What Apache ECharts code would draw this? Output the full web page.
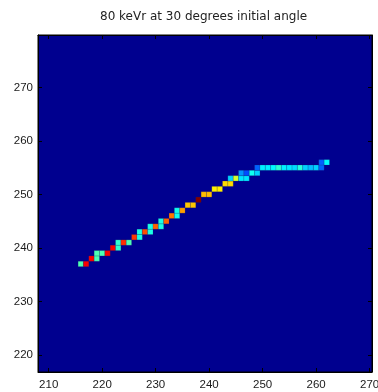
<!DOCTYPE html>
<html>
<head>
<meta charset="utf-8">
<script src="https://cdn.jsdelivr.net/npm/echarts@6/dist/echarts.min.js"></script>
<style>
html,body{margin:0;padding:0;background:#fff;}
#c{width:378px;height:392px;}
</style>
</head>
<body>
<div id="c"></div>
<script>
// ---- data ----
const titleText = '80 keVr at 30 degrees initial angle';
const xTickLabels = [210, 220, 230, 240, 250, 260, 270];
const yTickLabels = [220, 230, 240, 250, 260, 270];
const xRange = [208, 270.45];
const yRange = [216.8, 279.8];

// cell positions (pixel bins) and normalized intensity (0..1, jet colormap)
const cellX = [
  216, 217, 218, 219, 219, 220, 221, 222, 223, 223, 224, 225,
  226, 227, 227, 228, 229, 229, 230, 231, 231, 232, 233, 234, 234, 235,
  236, 237, 238, 239, 240, 241, 242, 243, 244,
  244, 245, 246, 247,
  246, 247, 248, 249,
  249, 250, 251, 252, 253, 254, 255, 256, 257, 258, 259, 260, 261,
  261, 262
];
const cellY = [
  237, 237, 238, 238, 239, 239, 239, 240, 240, 241, 241, 241,
  242, 242, 243, 243, 243, 244, 244, 244, 245, 245, 246, 246, 247, 247,
  248, 248, 249, 250, 250, 251, 251, 252, 252,
  253, 253, 253, 253,
  254, 254, 254, 254,
  255, 255, 255, 255, 255, 255, 255, 255, 255, 255, 255, 255, 255,
  256, 256
];
const cellValue = [
  0.45, 0.88, 0.88, 0.45, 0.45, 0.45, 0.88, 0.88, 0.42, 0.42, 0.83, 0.45,
  0.82, 0.40, 0.40, 0.80, 0.40, 0.40, 0.78, 0.40, 0.40, 0.78, 0.76, 0.39, 0.39, 0.72,
  0.68, 0.68, 1.00, 0.69, 0.69, 0.64, 0.64, 0.66, 0.66,
  0.33, 0.58, 0.35, 0.35,
  0.27, 0.20, 0.39, 0.33,
  0.22, 0.36, 0.36, 0.37, 0.42, 0.36, 0.35, 0.34, 0.41, 0.33, 0.31, 0.33, 0.22,
  0.22, 0.37
];

// jet colormap sampled at its breakpoints (t = 0, 0.125, ..., 1)
const jetColors = ['#000080','#0000ff','#0080ff','#00ffff','#80ff80','#ffff00','#ff8000','#ff0000','#800000'];
const backgroundColor = '#00008f';

// ---- chart ----
const data = cellX.map((x, i) => [x, cellY[i], cellValue[i]]);
const labelFont = "'Liberation Sans Narrow','Liberation Sans',Arial,sans-serif";
const onlyTicks = (list) => (v) => list.some(t => Math.abs(t - v) < 1e-6) ? String(Math.round(v)) : '';

const baseAxis = {
  type: 'value',
  scale: true,
  splitLine: { show: false },
  axisLine: { show: true, onZero: false, lineStyle: { color: '#000', width: 1 } },
  axisTick: { show: true, inside: true, length: 4, lineStyle: { color: '#000', width: 1 } }
};

const chart = echarts.init(document.getElementById('c'), null, { renderer: 'canvas' });
chart.setOption({
  animation: false,
  backgroundColor: '#ffffff',
  title: {
    text: titleText,
    left: 100,
    top: 11,
    padding: 0,
    textStyle: { fontFamily: "'DejaVu Sans',sans-serif", fontSize: 12, fontWeight: 'normal', color: '#222' }
  },
  grid: {
    left: 38, right: 6, top: 35, bottom: 20,
    show: true, backgroundColor: backgroundColor, borderColor: '#000', borderWidth: 1,
    containLabel: false, outerBoundsMode: 'none'
  },
  xAxis: [
    Object.assign({}, baseAxis, {
      position: 'bottom', min: xRange[0], max: xRange[1], splitNumber: 6,
      axisLabel: { show: true, margin: 7, color: '#1a1a1a', fontSize: 11.5, fontFamily: labelFont,
        formatter: onlyTicks(xTickLabels), showMinLabel: true, showMaxLabel: true, hideOverlap: false }
    }),
    Object.assign({}, baseAxis, {
      position: 'top', min: xRange[0], max: xRange[1], splitNumber: 6,
      axisLabel: { show: false }
    })
  ],
  yAxis: [
    Object.assign({}, baseAxis, {
      position: 'left', min: yRange[0], max: yRange[1], splitNumber: 6,
      axisLabel: { show: true, margin: 5, color: '#1a1a1a', fontSize: 11.5, fontFamily: labelFont,
        formatter: onlyTicks(yTickLabels), hideOverlap: false }
    }),
    Object.assign({}, baseAxis, {
      position: 'right', min: yRange[0], max: yRange[1], splitNumber: 6,
      axisLabel: { show: false }
    })
  ],
  visualMap: {
    show: false,
    type: 'continuous',
    min: 0, max: 1,
    dimension: 2,
    seriesIndex: 0,
    inRange: { color: jetColors }
  },
  series: [{
    type: 'custom',
    xAxisIndex: 0,
    yAxisIndex: 0,
    encode: { x: 0, y: 1 },
    data: data,
    clip: true,
    renderItem: function (params, api) {
      const x = api.value(0), y = api.value(1);
      const p0 = api.coord([x - 0.5, y + 0.5]);
      const p1 = api.coord([x + 0.5, y - 0.5]);
      return {
        type: 'rect',
        shape: { x: p0[0], y: p0[1], width: p1[0] - p0[0], height: p1[1] - p0[1] },
        style: { fill: api.visual('color'), stroke: 'rgba(40,40,90,0.35)', lineWidth: 0.5 }
      };
    }
  }]
});
</script>
</body>
</html>
